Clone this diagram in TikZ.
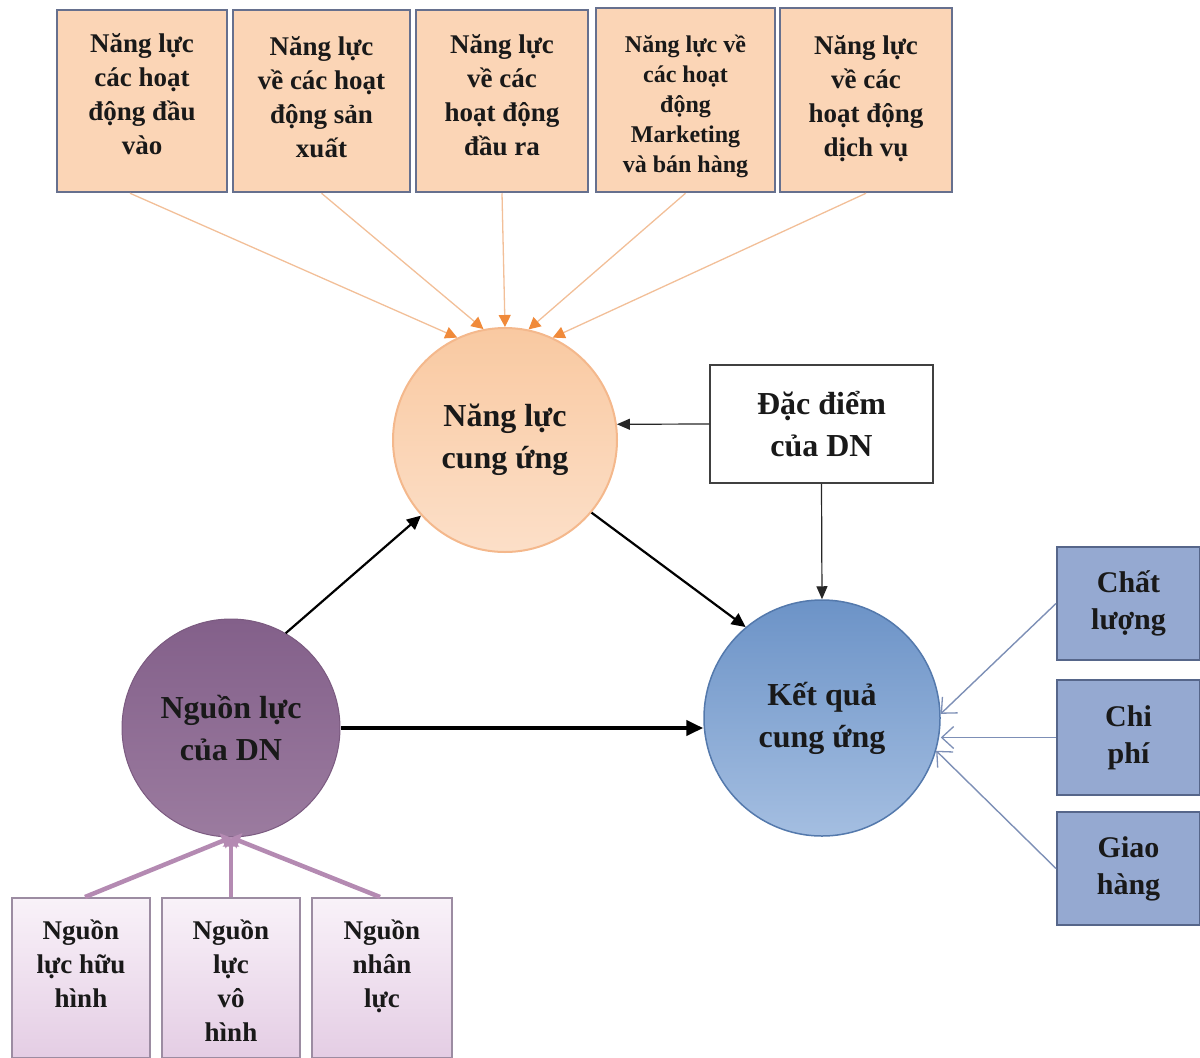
\documentclass[tikz,border=0pt]{standalone}
\usepackage{fontspec}
\setmainfont{Liberation Serif}
\usetikzlibrary{arrows.meta}

\definecolor{peachfill}{HTML}{FBD5B6}
\definecolor{topborder}{HTML}{66708E}
\definecolor{orangeline}{HTML}{F2BF98}
\definecolor{orangetip}{HTML}{F08A3A}
\definecolor{bluefill}{HTML}{95A9D1}
\definecolor{blueborder}{HTML}{56668A}
\definecolor{blueline}{HTML}{7D8FB6}
\definecolor{pinkline}{HTML}{B48AB2}
\definecolor{lilacborder}{HTML}{9C8CA2}
\definecolor{lilactop}{HTML}{F9F2F9}
\definecolor{lilacbottom}{HTML}{E4CDE4}
\definecolor{peachtop}{HTML}{F9C9A1}
\definecolor{peachbottom}{HTML}{FCDFC8}
\definecolor{peachedge}{HTML}{F4B88C}
\definecolor{skytop}{HTML}{6C93C7}
\definecolor{skybottom}{HTML}{A4BEE1}
\definecolor{skyedge}{HTML}{5479AC}
\definecolor{plumtop}{HTML}{83608A}
\definecolor{plumbottom}{HTML}{9B7B9F}
\definecolor{plumedge}{HTML}{7B5A80}

% fixed-height box text: height, width, first baseline below the top, lines
\newcommand\boxlines[4]{\parbox[c][#1][t]{#2}{\centering\rule{0pt}{#3}#4\par}}

\begin{document}
\begin{tikzpicture}[x=1pt,y=-1pt,
  every node/.style={text=black!90},
  actbox/.style={draw=topborder,line width=2.5pt,fill=peachfill,inner sep=0pt,
    font=\bfseries\fontsize{27}{34}\selectfont},
  factorbox/.style={draw=blueborder,line width=2pt,fill=bluefill,
    minimum width=143pt,minimum height=113pt,align=center,
    font=\bfseries\fontsize{30}{37}\selectfont},
  sourcebox/.style={draw=lilacborder,line width=2pt,top color=lilactop,
    bottom color=lilacbottom,inner sep=0pt,
    font=\bfseries\fontsize{27}{34}\selectfont},
  hub/.style={circle,align=center,font=\bfseries\fontsize{32}{42}\selectfont},
  feed/.style={draw=orangeline,line width=1.3pt,
    -{Triangle[length=12pt,width=12pt,color=orangetip]}},
  link/.style={draw=black,line width=2.2pt,-{Triangle[length=14pt,width=13pt]}},
  thin link/.style={draw=black!85,line width=1.2pt,-{Triangle[length=13pt,width=11pt]}},
  measure/.style={draw=blueline,line width=1.4pt,
    -{Straight Barb[length=12pt,width=22pt,line width=1.3pt]}},
  source/.style={draw=pinkline,line width=4.5pt,
    -{Triangle[length=9pt,width=16pt]}}
]
\useasboundingbox (0,0) rectangle (1200,1058);

% activity capabilities
\node[actbox,minimum width=170pt,minimum height=182pt] (a1) at (142,101)
  {\boxlines{182pt}{166pt}{42pt}{Năng lực\\các hoạt\\động đầu\\vào}};
\node[actbox,minimum width=177pt,minimum height=182pt] (a2) at (321.5,101)
  {\boxlines{182pt}{173pt}{45pt}{Năng lực\\về các hoạt\\động sản\\xuất}};
\node[actbox,minimum width=172pt,minimum height=182pt] (a3) at (502,101)
  {\boxlines{182pt}{168pt}{43pt}{Năng lực\\về các\\hoạt động\\đầu ra}};
\node[actbox,minimum width=179pt,minimum height=184pt,
  font=\bfseries\fontsize{24}{30}\selectfont] (a4) at (685.5,100)
  {\boxlines{184pt}{175pt}{44pt}{Năng lực về\\các hoạt\\động\\Marketing\\và bán hàng}};
\node[actbox,minimum width=172pt,minimum height=184pt] (a5) at (866,100)
  {\boxlines{184pt}{168pt}{46pt}{Năng lực\\về các\\hoạt động\\dịch vụ}};

% central circles
\node[hub,minimum size=224pt,draw=peachedge,line width=2pt,
  top color=peachtop,bottom color=peachbottom] (c1) at (505,440)
  {Năng lực\\cung ứng};
\node[hub,minimum size=236pt,draw=skyedge,line width=1.5pt,
  top color=skytop,bottom color=skybottom] (c2) at (822,718)
  {Kết quả\\cung ứng};
\node[hub,minimum size=218pt,draw=plumedge,line width=1pt,
  top color=plumtop,bottom color=plumbottom] (c3) at (231,728)
  {Nguồn lực\\của DN};

% company characteristics
\node[draw=black!75,line width=1.5pt,fill=white,minimum width=223pt,minimum height=118pt,
  align=center,font=\bfseries\fontsize{32}{42}\selectfont] (d) at (821.5,424)
  {Đặc điểm\\của DN};

% performance factors
\node[factorbox] (f1) at (1128.5,603.5) {Chất\\lượng};
\node[factorbox,minimum height=115pt] (f2) at (1128.5,737.5) {Chi\\phí};
\node[factorbox] (f3) at (1128.5,868.5) {Giao\\hàng};

% resource types
\node[sourcebox,minimum width=138pt,minimum height=160pt] (s1) at (81,978)
  {\boxlines{160pt}{134pt}{41pt}{Nguồn\\lực hữu\\hình}};
\node[sourcebox,minimum width=138pt,minimum height=160pt] (s2) at (231,978)
  {\boxlines{160pt}{134pt}{41pt}{Nguồn\\lực\\vô\\hình}};
\node[sourcebox,minimum width=140pt,minimum height=160pt] (s3) at (382,978)
  {\boxlines{160pt}{136pt}{41pt}{Nguồn\\nhân\\lực}};

% connectors
\draw[feed] ([xshift=-12pt]a1.south) -- (c1.115);
\draw[feed] (a2.south) -- (c1.101);
\draw[feed] (a3.south) -- (c1.90);
\draw[feed] (a4.south) -- (c1.78);
\draw[feed] (a5.south) -- (c1.65);

\draw[thin link] (d.west) -- (c1.8);
\draw[thin link] (d.south) -- (c2.north);

\draw[link] (c3.60) -- (c1.222);
\draw[link] (c1.320) -- (c2.130);
\draw[link,line width=4pt,-{Triangle[length=17pt,width=15pt]}]
  (c3.east) -- (c3.east -| c2.west);

\draw[measure] (f1.west) -- (c2.2);
\draw[measure] (f2.west) -- (f2.west -| c2.east);
\draw[measure] (f3.west) -- (c2.-16);

\draw[source] ([xshift=4pt]s1.north) -- (c3.south);
\draw[source] (s2.north) -- (c3.south);
\draw[source] ([xshift=-2pt]s3.north) -- (c3.south);
\end{tikzpicture}
\end{document}
